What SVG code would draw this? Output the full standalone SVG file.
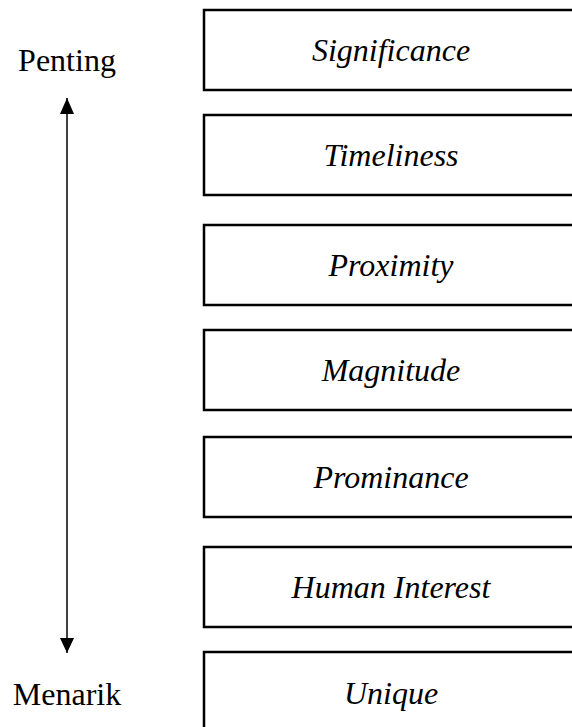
<svg xmlns="http://www.w3.org/2000/svg" width="572" height="727" viewBox="0 0 572 727">
<style>
.box{fill:#fff;stroke:#000;stroke-width:2.5}
.lbl{font-family:"Liberation Serif",serif;font-size:32px;font-style:italic;text-anchor:middle;fill:#000}
.side{font-family:"Liberation Serif",serif;font-size:32px;text-anchor:middle;fill:#000}
</style>
<defs>
<marker id="ah" viewBox="0 0 10 10" refX="10" refY="5" markerWidth="10" markerHeight="11" markerUnits="userSpaceOnUse" orient="auto-start-reverse" preserveAspectRatio="none">
<path d="M0,0 L10,5 L0,10 Z" fill="#000"/>
</marker>
</defs>
<rect width="572" height="727" fill="#fff"/>
<g id="connectors">
<line x1="67" y1="98" x2="67" y2="653" stroke="#000" stroke-width="1.5"/>
<path d="M67,98 L74,114 L60,114 Z" fill="#000"/>
<path d="M67,653 L74,638 L60,638 Z" fill="#000"/>
</g>
<g id="penting"><text class="side" x="67" y="71">Penting</text></g>
<g id="menarik"><text class="side" x="67" y="705">Menarik</text></g>
<g id="n1"><rect class="box" x="204" y="10" width="374" height="80"/><text class="lbl" x="391" y="61">Significance</text></g>
<g id="n2"><rect class="box" x="204" y="115" width="374" height="80"/><text class="lbl" x="391" y="166">Timeliness</text></g>
<g id="n3"><rect class="box" x="204" y="225" width="374" height="80"/><text class="lbl" x="391" y="276">Proximity</text></g>
<g id="n4"><rect class="box" x="204" y="330" width="374" height="80"/><text class="lbl" x="391" y="381">Magnitude</text></g>
<g id="n5"><rect class="box" x="204" y="437" width="374" height="80"/><text class="lbl" x="391" y="488">Prominance</text></g>
<g id="n6"><rect class="box" x="204" y="547" width="374" height="80"/><text class="lbl" x="391" y="598">Human Interest</text></g>
<g id="n7"><rect class="box" x="204" y="652" width="374" height="80"/><text class="lbl" x="391" y="704">Unique</text></g>
</svg>
